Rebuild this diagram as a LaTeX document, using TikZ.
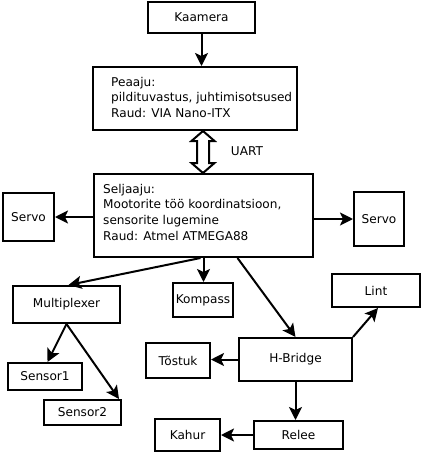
\documentclass[tikz,border=0pt]{standalone}
\usepackage{fontspec}
\setmainfont{DejaVu Sans}
\usetikzlibrary{arrows.meta,calc}
\newcommand\mybox[6]{\node[bx, minimum width={#4-#2}, minimum height={#5-#3}] (#1) at ({(#2+#4)/2},{(#3+#5)/2}) {#6};}
\begin{document}
\begin{tikzpicture}[x=1pt,y=-1pt,
  bx/.style={draw, line width=2pt, inner sep=0pt},
  txt/.style={inner sep=0pt, align=left, anchor=north west},
  conn/.style={line width=2pt, -{Stealth[length=13pt,width=13pt,inset=3pt]}},
  font=\fontsize{12.1}{15.6}\selectfont]
\useasboundingbox[fill=white] (0,0) rectangle (422,453);
\mybox{kaamera}{148}{2}{255}{33}{Kaamera}
\mybox{peaaju}{93}{67}{297}{130}{}
\mybox{seljaaju}{94}{174}{313}{257}{}
\mybox{servoL}{3}{193}{54}{241}{Servo}
\mybox{servoR}{354}{192}{404}{246}{Servo}
\mybox{mux}{13}{286}{120}{323}{Multiplexer}
\mybox{kompass}{173}{283}{233}{317}{Kompass}
\mybox{sensorA}{8}{363}{82}{390}{Sensor1}
\mybox{sensorB}{44}{400}{121}{425}{Sensor2}
\mybox{tostuk}{146}{343}{210}{378}{Tõstuk}
\mybox{kahur}{155}{419}{220}{451}{Kahur}
\mybox{hbridge}{239}{338}{352}{381}{H-Bridge}
\mybox{lint}{332}{274}{420}{307}{Lint}
\mybox{relee}{254}{421}{343}{449}{Relee}
\node[txt] (peaajutxt) at (111,77) {Peaaju:\\pildituvastus, juhtimisotsused\\Raud: VIA Nano-ITX};
\node[txt] (seljaajutxt) at (103,184) {Seljaaju:\\Mootorite töö koordinatsioon,\\sensorite lugemine\\Raud: Atmel ATMEGA88};
\node (uartlbl) at (247,151) {UART};
% connectors
\draw[conn] (kaamera.south) -- (kaamera.south |- peaaju.north);
\coordinate (ua) at (peaaju.south -| 203,0);
\coordinate (ub) at (seljaaju.north -| 203,0);
\draw[line width=2pt, fill=white, line join=miter]
  (ua) -- ($(ua)+(11.5,10)$) -- ($(ua)+(6,10)$) -- ($(ub)+(6,-10)$) -- ($(ub)+(11.5,-10)$)
  -- (ub) -- ($(ub)+(-11.5,-10)$) -- ($(ub)+(-6,-10)$) -- ($(ua)+(-6,10)$) -- ($(ua)+(-11.5,10)$) -- cycle;
\draw[conn] (seljaaju.west |- servoL.east) -- (servoL.east);
\draw[conn] (seljaaju.east |- servoR.west) -- (servoR.west);
\draw[conn] ([xshift=-3pt]seljaaju.south) -- ([xshift=2pt]mux.north);
\draw[conn] (seljaaju.south) -- (seljaaju.south |- kompass.north);
\draw[conn] ([xshift=34pt]seljaaju.south) -- (hbridge.north);
\draw[conn] (mux.south) -- ([xshift=2.5pt]sensorA.north);
\draw[conn] (mux.south) -- ([xshift=-3pt]sensorB.north east);
\draw[conn] (hbridge.west) -- (hbridge.west -| tostuk.east);
\draw[conn] (hbridge.north east) -- ([xshift=2pt]lint.south);
\draw[conn] (hbridge.south) -- (hbridge.south |- relee.north);
\draw[conn] (relee.west) -- (relee.west -| kahur.east);
\end{tikzpicture}
\end{document}
